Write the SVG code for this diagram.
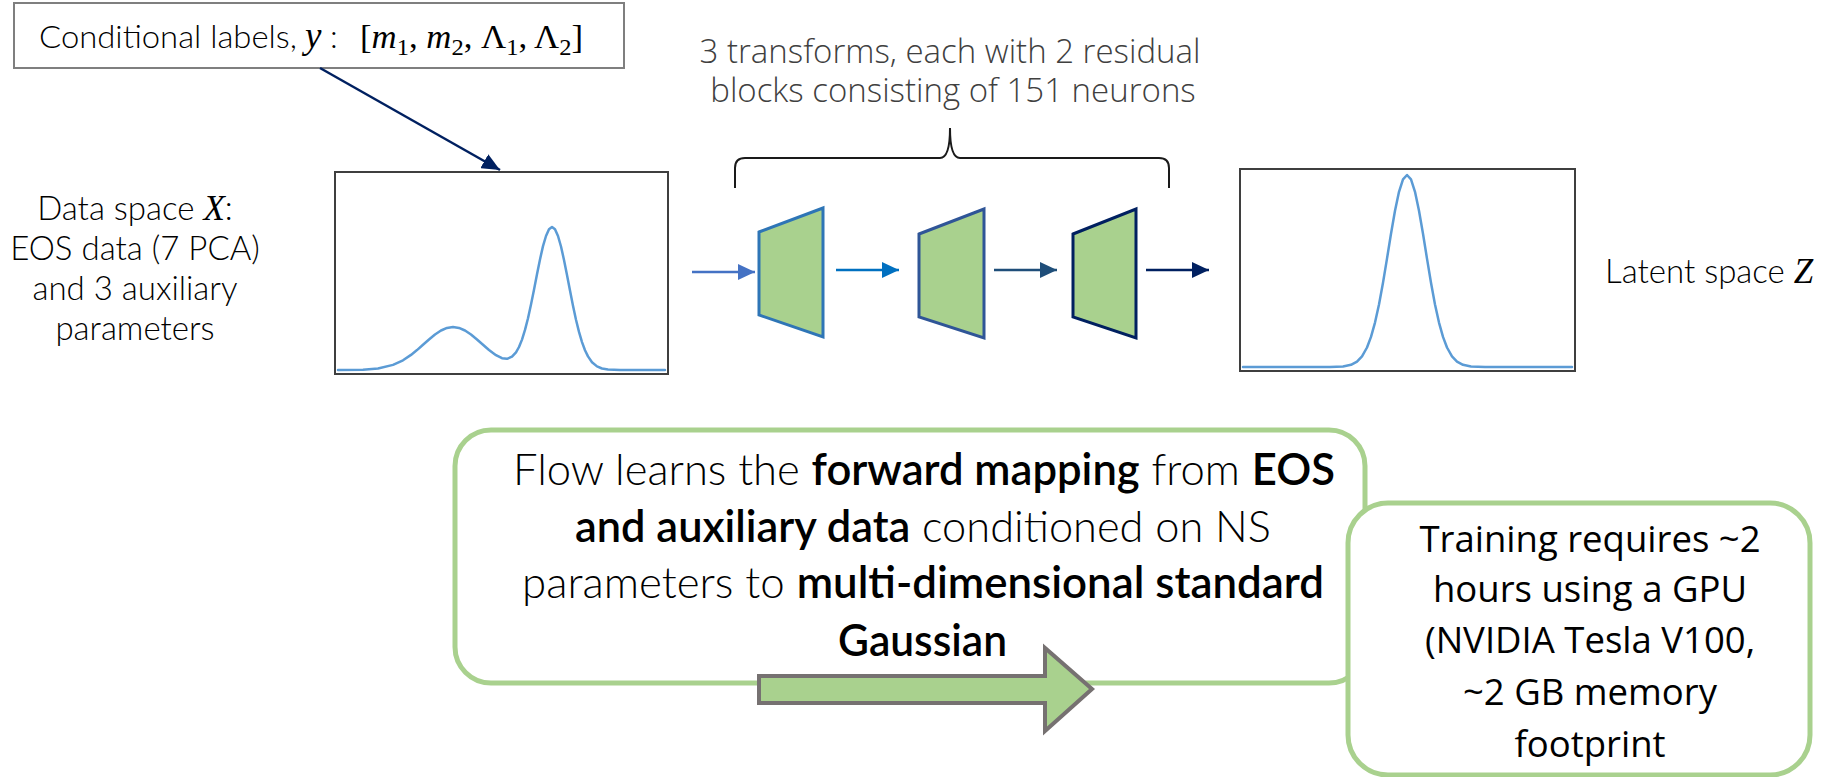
<svg xmlns="http://www.w3.org/2000/svg" width="1837" height="777" viewBox="0 0 1837 777">
<style>
.cal{font-family:Lato,"Liberation Sans",sans-serif;font-weight:300;fill:#000}
.b{font-weight:600}
.math{font-family:"Liberation Serif","DejaVu Serif",serif;font-style:italic;font-weight:400}
.up{font-family:"Liberation Serif","DejaVu Serif",serif;font-style:normal;font-weight:400;fill:#000}
.seg{font-family:"Open Sans","Liberation Sans",sans-serif;fill:#000}
.plot{fill:#fff;stroke:#3f3f3f;stroke-width:2}
.curve{fill:none;stroke:#5b9bd5;stroke-width:2.5;stroke-linejoin:round;stroke-linecap:round}
.trap{fill:#a9d18e;stroke-width:3}
.conn{fill:none;stroke-width:2.5}
.gbox{fill:#fff;stroke:#a9d18e;stroke-width:5}
</style>
<defs>
<marker id="hNavy" markerUnits="userSpaceOnUse" markerWidth="20" markerHeight="16" refX="18" refY="8" orient="auto"><path d="M0,0 L18,8 L0,16 z" fill="#002060"/></marker>
<marker id="h1" markerUnits="userSpaceOnUse" markerWidth="18" markerHeight="16" refX="17" refY="8" orient="auto"><path d="M0,0 L17,8 L0,16 z" fill="#4472c4"/></marker>
<marker id="h2" markerUnits="userSpaceOnUse" markerWidth="18" markerHeight="16" refX="17" refY="8" orient="auto"><path d="M0,0 L17,8 L0,16 z" fill="#0070c0"/></marker>
<marker id="h3" markerUnits="userSpaceOnUse" markerWidth="18" markerHeight="16" refX="17" refY="8" orient="auto"><path d="M0,0 L17,8 L0,16 z" fill="#1f4e79"/></marker>
<marker id="h4" markerUnits="userSpaceOnUse" markerWidth="18" markerHeight="16" refX="17" refY="8" orient="auto"><path d="M0,0 L17,8 L0,16 z" fill="#002060"/></marker>
</defs>
<rect width="1837" height="777" fill="#fff"/>

<g id="cond-labels">
<rect x="14" y="3" width="610" height="65" fill="#fff" stroke="#7f7f7f" stroke-width="2"/>
<text class="cal" x="39" y="48" font-size="32" textLength="258" lengthAdjust="spacingAndGlyphs">Conditional labels,</text>
<text class="math" x="305" y="48" font-size="37">y</text>
<text class="cal" x="330" y="48" font-size="32">:</text>
<text class="up" x="360" y="48" font-size="34" textLength="223" lengthAdjust="spacingAndGlyphs">[<tspan class="math">m</tspan><tspan font-size="24" dy="7">1</tspan><tspan dy="-7">, </tspan><tspan class="math">m</tspan><tspan font-size="24" dy="7">2</tspan><tspan dy="-7">, Λ</tspan><tspan font-size="24" dy="7">1</tspan><tspan dy="-7">, Λ</tspan><tspan font-size="24" dy="7">2</tspan><tspan dy="-7">]</tspan></text>
</g>

<g id="data-space-label">
<text class="cal" font-size="33" text-anchor="middle"><tspan x="135" y="220">Data space <tspan class="math" font-size="35">X</tspan>:</tspan><tspan x="135" y="260">EOS data (7 PCA)</tspan><tspan x="135" y="300">and 3 auxiliary</tspan><tspan x="135" y="340">parameters</tspan></text>
</g>

<g id="data-plot">
<rect class="plot" x="335" y="172" width="333" height="202"/>
<polyline class="curve" points="338,370 363,369.65 378,368.5 393,364.9 403,360.3 411,354.9 417,350.1 423,344.8 429,339.5 435,334.5 441,330.5 447,327.9 453,327 459,327.9 465,330.5 471,334.5 477,339.5 483,344.8 489,350 496,355.2 502,358.2 507,358.8 512,356.7 516,352.3 519,347 522,339.6 525,329.9 528,318.2 531,304.5 534,289.7 537,274.2 540,259.4 543,246.1 546,236 549,229.3 552,227 555,229.3 558,236 561,246.5 564,259.9 567,274.9 570,290.6 573,305.7 576,319.7 579,331.9 582,342.1 585,350.2 588,356.4 592,362.2 597,366.4 602,368.5 608,369.5 620,370 665,370"/>
</g>

<g id="transforms-label">
<text class="seg" font-size="33" font-weight="300" text-anchor="middle" style="fill:#404040"><tspan x="950" y="63">3 transforms, each with 2 residual</tspan><tspan x="953" y="102">blocks consisting of 151 neurons</tspan></text>
<path d="M735,188 L735,168 Q735,158 745,158 L940,158 Q950,158 950,128 Q950,158 960,158 L1159,158 Q1169,158 1169,168 L1169,188" fill="none" stroke="#1a1a1a" stroke-width="2"/>
</g>

<g id="transform-1"><polygon class="trap" points="759,232 823,208 823,337 759,315" stroke="#2e75b6"/></g>
<g id="transform-2"><polygon class="trap" points="919,234 984,209 984,338 919,317" stroke="#2f5597"/></g>
<g id="transform-3"><polygon class="trap" points="1073,234 1136,209 1136,338 1073,317" stroke="#002060"/></g>

<g id="latent-plot">
<rect class="plot" x="1240" y="169" width="335" height="202"/>
<polyline class="curve" points="1243,367 1330,367 1343,366.45 1351,364.8 1357,361.6 1362,356.4 1367,347.5 1371,336.9 1375,322.6 1379,304.4 1383,282.7 1387,258.6 1391,233.8 1395,210.7 1399,191.8 1403,179.3 1407,175 1411,179.3 1415,191.8 1419,210.7 1423,233.8 1427,258.6 1431,282.7 1435,304.4 1439,322.6 1443,336.9 1447,347.5 1452,356.4 1457,361.6 1463,364.8 1471,366.45 1485,367 1572,367"/>
</g>

<g id="latent-label">
<text class="cal" x="1605" y="283" font-size="33">Latent space <tspan class="math" font-size="35">Z</tspan></text>
</g>

<g id="connectors">
<line class="conn" x1="320" y1="68" x2="500" y2="170" stroke="#002060" marker-end="url(#hNavy)"/>
<line class="conn" x1="692" y1="272" x2="755" y2="272" stroke="#4472c4" marker-end="url(#h1)"/>
<line class="conn" x1="836" y1="270" x2="899" y2="270" stroke="#0070c0" marker-end="url(#h2)"/>
<line class="conn" x1="994" y1="270" x2="1057" y2="270" stroke="#1f4e79" marker-end="url(#h3)"/>
<line class="conn" x1="1146" y1="270" x2="1209" y2="270" stroke="#002060" marker-end="url(#h4)"/>
</g>

<g id="flow-box">
<rect class="gbox" x="455" y="430" width="910" height="253" rx="36" ry="36"/>
<text class="cal" x="513" y="485" font-size="44" textLength="822" lengthAdjust="spacingAndGlyphs">Flow learns the <tspan class="b">forward mapping</tspan> from <tspan class="b">EOS</tspan></text>
<text class="cal" x="575" y="542" font-size="44" textLength="696" lengthAdjust="spacingAndGlyphs"><tspan class="b">and auxiliary data</tspan> conditioned on NS</text>
<text class="cal" x="522" y="598" font-size="44" textLength="802" lengthAdjust="spacingAndGlyphs">parameters to <tspan class="b">multi-dimensional standard</tspan></text>
<text class="cal b" x="838" y="656" font-size="44" textLength="169" lengthAdjust="spacingAndGlyphs">Gaussian</text>
</g>

<g id="forward-arrow">
<polygon points="759,676 1045,676 1045,648 1092,689 1045,731 1045,703 759,703" fill="#a9d18e" stroke="#767171" stroke-width="4"/>
</g>

<g id="training-box">
<rect class="gbox" x="1348" y="503" width="462" height="272" rx="40" ry="40"/>
<text class="seg" font-size="36.5" text-anchor="middle"><tspan x="1590" y="552">Training requires ~2</tspan><tspan x="1590" y="602">hours using a GPU</tspan><tspan x="1590" y="653">(NVIDIA Tesla V100,</tspan><tspan x="1590" y="705">~2 GB memory</tspan><tspan x="1590" y="757">footprint</tspan></text>
</g>
</svg>
